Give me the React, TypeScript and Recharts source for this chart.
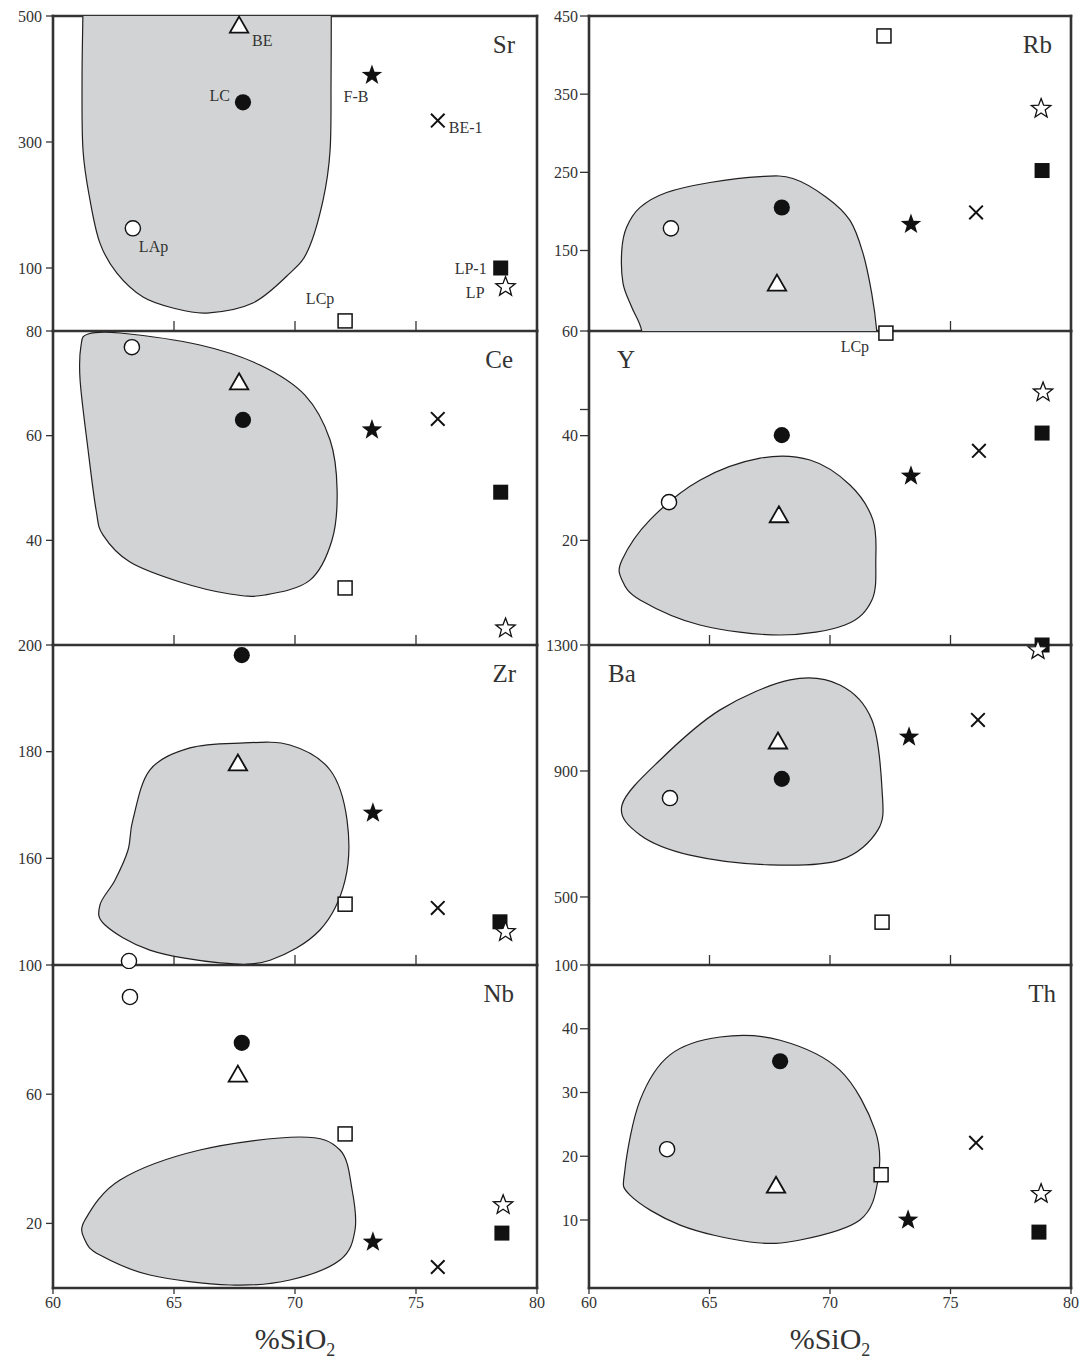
import React from 'react';
import { ScatterChart, Scatter, XAxis, YAxis, ReferenceArea, ReferenceLine } from 'recharts';

const FONT = '"Liberation Serif", "Times New Roman", Times, serif';
const INK = '#111111';
const AXIS = '#333333';
const TEXT = '#333333';
const FIELD_FILL = '#d1d3d4';
const FIELD_STROKE = '#231f20';

type Pt = [number, number];

// ---------- samples ----------
const SAMPLES = ['LAp', 'LC', 'BE', 'F-B', 'BE-1', 'LP-1', 'LP', 'LCp'];
const MARKER_OF: Record<string, string> = {
  LAp: 'openCircle', LC: 'filledCircle', BE: 'openTriangle', 'F-B': 'filledStar',
  'BE-1': 'cross', 'LP-1': 'filledSquare', LP: 'openStar', LCp: 'openSquare',
};

const X_TICKS = [60, 65, 70, 75, 80];
const X_INNER_TICKS = [65, 70, 75];

// ---------- values (order = SAMPLES) ----------
const srSiO2 = [63.3, 67.85, 67.69, 73.18, 75.9, 78.5, 78.7, 72.07];
const srValues = [163, 363, 484, 406, 334, 100, 70, 16];
const ceSiO2 = [63.26, 67.85, 67.69, 73.18, 75.9, 78.5, 78.7, 72.07];
const ceValues = [76.9, 63.0, 70.1, 61.1, 63.2, 49.2, 23.2, 30.9];
const zrSiO2 = [63.14, 67.8, 67.64, 73.22, 75.9, 78.47, 78.7, 72.07];
const zrValues = [140.75, 198.1, 177.7, 168.5, 150.7, 148.1, 146.2, 151.4];
const nbSiO2 = [63.18, 67.8, 67.64, 73.22, 75.9, 78.55, 78.6, 72.07];
const nbValues = [90.1, 75.9, 65.9, 14.2, 6.5, 17.0, 25.7, 47.7];
const rbSiO2 = [63.4, 68.0, 67.8, 73.36, 76.06, 78.8, 78.76, 72.24];
const rbValues = [178.3, 205, 107, 183.4, 198.7, 252.3, 331.4, 424.5];
const ySiO2 = [63.32, 68.0, 67.88, 73.36, 76.18, 78.8, 78.84, 72.32];
const yValues = [27.3, 40.1, 24.7, 32.3, 37.1, 40.5, 48.3, 59.6];
const baSiO2 = [63.36, 68.0, 67.84, 73.28, 76.14, 78.8, 78.63, 72.16];
const baValues = [814, 875, 992, 1008, 1062, 1300, 1284, 420];
const thSiO2 = [63.24, 67.93, 67.76, 73.24, 76.06, 78.67, 78.76, 72.12];
const thValues = [21.1, 34.9, 15.3, 10.0, 22.1, 8.1, 14.1, 17.1];

// ---------- y ticks ----------
const srTicks = [100, 300, 500];
const ceTicks = [40, 60, 80];
const zrTicks = [160, 180, 200];
const nbTicks = [20, 60, 100];
const rbTicks = [150, 250, 350, 450];
const yTicks = [20, 40, 45, 60];
const yTickLabels = ['20', '40', '', '60'];
const baTicks = [500, 900, 1300];
const thTicks = [10, 20, 30, 40, 50];
const thTickLabels = ['10', '20', '30', '40', '100'];

// ---------- grey compositional fields (SiO2, value) ----------
const srField: Pt[] = [
  [61.24, 620], [61.24, 520], [61.2, 400], [61.24, 287], [61.53, 207.6], [61.94, 139.5],
  [62.64, 91.9], [63.72, 53.9], [64.96, 36.5], [66.36, 28.5], [68.26, 44.4], [69.79, 91.9],
  [70.54, 128.4], [71.16, 207.6], [71.45, 286.8], [71.49, 400], [71.5, 520], [71.5, 620], [66.4, 640],
];
const ceField: Pt[] = [
  [61.45, 79.43], [62.77, 79.62], [66.07, 77.32], [68.55, 73.5], [70.41, 67.74], [71.45, 59.17],
  [71.74, 49.6], [71.53, 40.06], [70.62, 32.4], [68.76, 29.55], [67.31, 29.74], [65.25, 32.03],
  [63.18, 35.85], [62.07, 41.0], [61.78, 45.8], [61.45, 57.26], [61.12, 70.6], [61.16, 77.3],
];
const zrField: Pt[] = [
  [67.73, 181.6], [69.79, 181.25], [71.45, 176.56], [72.15, 167.2], [72.07, 155.9], [71.03, 146.56],
  [68.97, 140.9], [66.9, 140.4], [64.0, 142.8], [62.15, 147.5], [61.94, 151.25], [62.56, 155.9],
  [63.1, 161.56], [63.3, 167.2], [64.0, 176.56], [65.66, 180.7],
];
const nbField: Pt[] = [
  [61.32, 21.05], [62.77, 33.44], [66.07, 42.72], [70.2, 46.75], [71.86, 42.72], [72.36, 30.34],
  [72.48, 17.96], [71.86, 8.67], [69.79, 2.48], [67.31, 0.93], [64.0, 4.02], [61.94, 10.2], [61.32, 14.86],
];
const rbField: Pt[] = [
  [62.3, 0], [62.19, 47], [61.77, 77.6], [61.41, 108.2], [61.36, 150.3], [61.56, 179.6], [62.12, 205.1],
  [63.22, 224.2], [65.02, 237], [67.1, 244.6], [68.46, 242.1], [69.86, 217.9], [70.83, 188.5],
  [71.37, 146.4], [71.73, 95.4], [71.94, 47], [72.0, 0], [67.1, -20],
];
const yField: Pt[] = [
  [61.37, 16.24], [62.53, 23.9], [64.6, 31.5], [67.1, 35.7], [69.17, 35.35], [70.83, 30.57],
  [71.78, 23.9], [71.9, 16.24], [71.74, 8.6], [70.62, 3.82], [67.93, 1.91], [64.6, 3.82],
  [62.12, 8.6], [61.37, 12.4],
];
const baField: Pt[] = [
  [61.37, 792], [62.95, 935], [65.44, 1094], [68.34, 1189], [70.41, 1173], [71.74, 1062],
  [72.16, 840], [71.99, 713], [70.41, 617], [67.51, 602], [64.19, 633], [62.12, 697],
];
const thField: Pt[] = [
  [61.49, 17.84], [62.12, 28.8], [63.36, 35.9], [65.44, 38.7], [67.93, 38.2], [70.41, 33.5],
  [71.87, 24.1], [71.99, 16.27], [71.24, 10.0], [68.76, 6.86], [66.68, 6.55], [63.78, 9.2], [61.7, 13.9],
];

// ---------- label placements (style, not data) ----------
type LabelPos = { dx: number; dy: number; anchor: 'start' | 'middle' | 'end' };
const SR_LABEL_POS: Record<string, LabelPos> = {
  BE: { dx: 13, dy: 14, anchor: 'start' },
  LC: { dx: -13, dy: -7, anchor: 'end' },
  LAp: { dx: 6, dy: 18, anchor: 'start' },
  'F-B': { dx: -16, dy: 21, anchor: 'middle' },
  'BE-1': { dx: 11, dy: 7, anchor: 'start' },
  'LP-1': { dx: -14, dy: 0, anchor: 'end' },
  LP: { dx: -21, dy: 6, anchor: 'end' },
  LCp: { dx: -25, dy: -22, anchor: 'middle' },
};
const Y_LABEL_POS: Record<string, LabelPos> = {
  LCp: { dx: -31, dy: 13, anchor: 'middle' },
};

// ---------- layout ----------
const MT = 12;
const MB_INNER = 4;
const ROW_EDGES = [16, 331, 645, 965, 1288];
const LEFT_COL = { chartLeft: 0, yAxisW: 53, plotW: 484, marginRight: 16, tickSize: 7, tickMargin: 4 };
const RIGHT_COL = { chartLeft: 540, yAxisW: 49, plotW: 482, marginRight: 10, tickSize: 9, tickMargin: 2 };

type Col = typeof LEFT_COL;
interface PanelDef {
  name: string; col: Col; row: number; domain: [number, number]; ticks: number[]; tickLabels?: string[];
  xs: number[]; ys: number[]; field: Pt[]; titleSide: 'left' | 'right'; titleInset: number;
  labelPos?: Record<string, LabelPos>;
}

const PANELS: PanelDef[] = [
  { name: 'Sr', col: LEFT_COL, row: 0, domain: [0, 500], ticks: srTicks, xs: srSiO2, ys: srValues, field: srField, titleSide: 'right', titleInset: 22, labelPos: SR_LABEL_POS },
  { name: 'Ce', col: LEFT_COL, row: 1, domain: [20, 80], ticks: ceTicks, xs: ceSiO2, ys: ceValues, field: ceField, titleSide: 'right', titleInset: 24 },
  { name: 'Zr', col: LEFT_COL, row: 2, domain: [140, 200], ticks: zrTicks, xs: zrSiO2, ys: zrValues, field: zrField, titleSide: 'right', titleInset: 21 },
  { name: 'Nb', col: LEFT_COL, row: 3, domain: [0, 100], ticks: nbTicks, xs: nbSiO2, ys: nbValues, field: nbField, titleSide: 'right', titleInset: 23 },
  { name: 'Rb', col: RIGHT_COL, row: 0, domain: [47, 450], ticks: rbTicks, xs: rbSiO2, ys: rbValues, field: rbField, titleSide: 'right', titleInset: 19 },
  { name: 'Y', col: RIGHT_COL, row: 1, domain: [0, 60], ticks: yTicks, tickLabels: yTickLabels, xs: ySiO2, ys: yValues, field: yField, titleSide: 'left', titleInset: 28, labelPos: Y_LABEL_POS },
  { name: 'Ba', col: RIGHT_COL, row: 2, domain: [284, 1300], ticks: baTicks, xs: baSiO2, ys: baValues, field: baField, titleSide: 'left', titleInset: 19 },
  { name: 'Th', col: RIGHT_COL, row: 3, domain: [-0.67, 50], ticks: thTicks, tickLabels: thTickLabels, xs: thSiO2, ys: thValues, field: thField, titleSide: 'right', titleInset: 15 },
];

// ---------- drawing helpers ----------
function closedCurve(pts: { x: number; y: number }[]): string {
  const n = pts.length;
  const f = (v: number) => v.toFixed(2);
  let d = `M${f(pts[0].x)},${f(pts[0].y)}`;
  for (let i = 0; i < n; i++) {
    const p0 = pts[(i - 1 + n) % n];
    const p1 = pts[i];
    const p2 = pts[(i + 1) % n];
    const p3 = pts[(i + 2) % n];
    d += `C${f(p1.x + (p2.x - p0.x) / 6)},${f(p1.y + (p2.y - p0.y) / 6)} ${f(p2.x - (p3.x - p1.x) / 6)},${f(p2.y - (p3.y - p1.y) / 6)} ${f(p2.x)},${f(p2.y)}`;
  }
  return d + 'Z';
}

function FieldOutline(props: any) {
  const pts = (props.points || []).filter((p: any) => p && Number.isFinite(p.x) && Number.isFinite(p.y));
  if (pts.length < 3) return <g />;
  return <path d={closedCurve(pts)} fill={FIELD_FILL} stroke={FIELD_STROKE} strokeWidth={1.2} />;
}

function starPath(cx: number, cy: number, R: number, r: number): string {
  let d = '';
  for (let i = 0; i < 10; i++) {
    const a = -Math.PI / 2 + (i * Math.PI) / 5;
    const rad = i % 2 === 0 ? R : r;
    d += (i === 0 ? 'M' : 'L') + (cx + rad * Math.cos(a)).toFixed(2) + ',' + (cy + rad * Math.sin(a)).toFixed(2);
  }
  return d + 'Z';
}

function Marker({ kind, cx, cy }: { kind: string; cx: number; cy: number }) {
  switch (kind) {
    case 'openCircle':
      return <circle cx={cx} cy={cy} r={7.6} fill="#fff" stroke={INK} strokeWidth={1.4} />;
    case 'filledCircle':
      return <circle cx={cx} cy={cy} r={8.1} fill={INK} />;
    case 'openTriangle':
      return <path d={`M${cx},${cy - 9.5}L${cx + 9.2},${cy + 6.5}L${cx - 9.2},${cy + 6.5}Z`} fill="#fff" stroke={INK} strokeWidth={1.8} />;
    case 'filledStar':
      return <path d={starPath(cx, cy, 10.8, 4.4)} fill={INK} />;
    case 'openStar':
      return <path d={starPath(cx, cy, 10.2, 4.3)} fill="#fff" stroke={INK} strokeWidth={1.3} />;
    case 'cross':
      return <path d={`M${cx - 6.8},${cy - 6.8}L${cx + 6.8},${cy + 6.8}M${cx + 6.8},${cy - 6.8}L${cx - 6.8},${cy + 6.8}`} stroke={INK} strokeWidth={2} />;
    case 'filledSquare':
      return <rect x={cx - 7.5} y={cy - 7.5} width={15} height={15} fill={INK} />;
    case 'openSquare':
      return <rect x={cx - 7} y={cy - 7} width={14} height={14} fill="#fff" stroke={INK} strokeWidth={1.5} />;
    default:
      return <g />;
  }
}

function SampleShape(props: any) {
  const { cx, cy, payload } = props;
  if (!Number.isFinite(cx) || !Number.isFinite(cy)) return <g />;
  const pos: LabelPos | undefined = payload.labelPos;
  return (
    <g>
      <Marker kind={payload.kind} cx={cx} cy={cy} />
      {pos && (
        <text x={cx + pos.dx} y={cy + pos.dy + 5.5} textAnchor={pos.anchor} fontSize={16} fontFamily={FONT} fill={TEXT}>
          {payload.name}
        </text>
      )}
    </g>
  );
}

function PanelTitle({ viewBox, text, side, inset }: any) {
  if (!viewBox) return null;
  const x = side === 'right' ? viewBox.x + viewBox.width - inset : viewBox.x + inset;
  return (
    <text x={x} y={viewBox.y + 37} textAnchor={side === 'right' ? 'end' : 'start'} fontSize={25} fontFamily={FONT} fill={TEXT}>
      {text}
    </text>
  );
}

function SiO2Title(props: any) {
  const vb = props.viewBox;
  if (!vb) return null;
  return (
    <text x={vb.x + vb.width / 2} y={vb.y + 61} textAnchor="middle" fontSize={30} fontFamily={FONT} fill={TEXT}>
      %SiO
      <tspan fontSize={18} dy={7}>2</tspan>
    </text>
  );
}

const EmptyTick = () => <g />;

function Panel({ p }: { p: PanelDef }) {
  const top = ROW_EDGES[p.row];
  const plotH = ROW_EDGES[p.row + 1] - top;
  const isBottom = p.row === 3;
  const isTop = p.row === 0;
  const xAxisH = 78;
  const width = p.col.yAxisW + p.col.plotW + p.col.marginRight;
  const height = isBottom ? MT + plotH + xAxisH : MT + plotH + MB_INNER;
  const fieldData = p.field.map(([x, y]) => ({ x, y }));
  const tickFmt = (v: number) => {
    const i = p.ticks.indexOf(v);
    return p.tickLabels && i >= 0 ? p.tickLabels[i] : String(v);
  };
  const frame = { stroke: AXIS, strokeWidth: 2.6, strokeLinecap: 'square' as const, ifOverflow: 'visible' as const };
  return (
    <div style={{ position: 'absolute', left: p.col.chartLeft, top: top - MT }}>
      <ScatterChart
        width={width}
        height={height}
        margin={{ top: MT, right: p.col.marginRight, bottom: isBottom ? 0 : MB_INNER, left: 0 }}
      >
        {isBottom ? (
          <XAxis
            type="number"
            dataKey="x"
            domain={[60, 80]}
            ticks={X_TICKS}
            interval={0}
            height={xAxisH}
            axisLine={false}
            tickSize={6}
            tickMargin={3}
            tickLine={{ stroke: AXIS, strokeWidth: 1.3 }}
            tick={{ fontSize: 16, fill: TEXT, fontFamily: FONT }}
            label={(lp: any) => <SiO2Title {...lp} />}
          />
        ) : (
          <XAxis
            type="number"
            dataKey="x"
            domain={[60, 80]}
            ticks={X_INNER_TICKS}
            interval={0}
            height={1}
            mirror
            axisLine={false}
            tick={EmptyTick}
            tickSize={10}
            tickLine={{ stroke: AXIS, strokeWidth: 1.3 }}
          />
        )}
        <YAxis
          type="number"
          dataKey="y"
          domain={p.domain}
          ticks={p.ticks}
          interval={0}
          width={p.col.yAxisW}
          axisLine={false}
          tickSize={p.col.tickSize}
          tickMargin={p.col.tickMargin}
          tickLine={{ stroke: AXIS, strokeWidth: 1.3 }}
          tick={{ fontSize: 16, fill: TEXT, fontFamily: FONT }}
          tickFormatter={tickFmt}
        />
        <YAxis yAxisId="field" type="number" dataKey="y" domain={p.domain} allowDataOverflow hide />
        <Scatter
          yAxisId="field"
          data={fieldData}
          isAnimationActive={false}
          line={(lp: any) => <FieldOutline {...lp} />}
          lineType="joint"
          shape={() => <g />}
        />
        <ReferenceArea
          x1={60}
          x2={80}
          y1={p.domain[0]}
          y2={p.domain[1]}
          fill="none"
          fillOpacity={0}
          stroke="none"
          ifOverflow="visible"
          label={(lp: any) => <PanelTitle {...lp} text={p.name} side={p.titleSide} inset={p.titleInset} />}
        />
        <ReferenceLine x={60} {...frame} />
        <ReferenceLine x={80} {...frame} />
        <ReferenceLine y={p.domain[0]} {...frame} />
        {isTop && <ReferenceLine y={p.domain[1]} {...frame} />}
        {SAMPLES.map((s, i) => (
          <Scatter
            key={s}
            name={s}
            data={[{ x: p.xs[i], y: p.ys[i], name: s, kind: MARKER_OF[s], labelPos: p.labelPos ? p.labelPos[s] : undefined }]}
            isAnimationActive={false}
            shape={(sp: any) => <SampleShape {...sp} />}
          />
        ))}
      </ScatterChart>
    </div>
  );
}

export default function App() {
  return (
    <div style={{ position: 'absolute', left: 0, top: 0, width: 1081, height: 1361, background: '#fff', fontFamily: FONT }}>
      {PANELS.map((p) => (
        <Panel key={p.name} p={p} />
      ))}
    </div>
  );
}
